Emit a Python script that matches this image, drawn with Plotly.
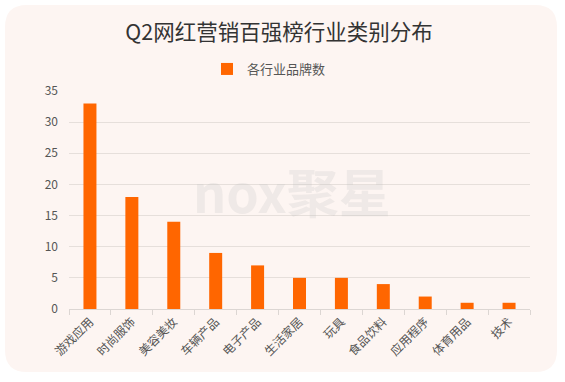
import plotly.graph_objects as go

categories = ["游戏应用", "时尚服饰", "美容美妆", "车辆产品", "电子产品", "生活家居",
              "玩具", "食品饮料", "应用程序", "体育用品", "技术"]
brand_counts = [33, 18, 14, 9, 7, 5, 5, 4, 2, 1, 1]
series_name = "各行业品牌数"
title_text = "Q2网红营销百强榜行业类别分布"

W, H = 565, 382
L, R, T, B = 69, 35, 91, 73
pw = W - L - R
ph = H - T - B

def px(x):
    return (x - L) / pw

def py(y):
    return (H - B - y) / ph

def card_path(x0, y0, x1, y1, r):
    pts = [
        f"M {px(x0 + r)} {py(y0)}",
        f"L {px(x1 - r)} {py(y0)}",
        f"Q {px(x1)} {py(y0)} {px(x1)} {py(y0 + r)}",
        f"L {px(x1)} {py(y1 - r)}",
        f"Q {px(x1)} {py(y1)} {px(x1 - r)} {py(y1)}",
        f"L {px(x0 + r)} {py(y1)}",
        f"Q {px(x0)} {py(y1)} {px(x0)} {py(y1 - r)}",
        f"L {px(x0)} {py(y0 + r)}",
        f"Q {px(x0)} {py(y0)} {px(x0 + r)} {py(y0)}",
        "Z",
    ]
    return " ".join(pts)

font = "Noto Sans CJK SC, Noto Sans, sans-serif"

fig = go.Figure()
fig.add_trace(go.Bar(
    x=categories, y=brand_counts, name=series_name,
    marker=dict(color="#FF6600", line=dict(width=0)),
    showlegend=True,
))

fig.update_layout(
    width=W, height=H,
    margin=dict(l=L, r=R, t=T, b=B, autoexpand=False),
    paper_bgcolor="white",
    plot_bgcolor="rgba(0,0,0,0)",
    bargap=0.69,
    font=dict(family=font, color="#666666", size=12),
    title=dict(text=title_text, x=px(279), xref="paper", xanchor="center",
               y=1 - 32 / H, yanchor="middle",
               font=dict(family=font, size=21.5, color="#333333")),
    legend=dict(orientation="h", x=px(207), xanchor="left", y=py(69), yanchor="middle",
                font=dict(size=13, color="#555555"), bgcolor="rgba(0,0,0,0)",
                itemwidth=30),
    xaxis=dict(
        automargin=False,
        showgrid=False, showline=True, linecolor="#dcd6d3", linewidth=1,
        ticks="outside", tickson="boundaries", ticklen=5, tickcolor="#dcd6d3",
        tickangle=-45, tickfont=dict(size=12, color="#555555"),
    ),
    yaxis=dict(
        automargin=False,
        range=[0, 35], dtick=5, showgrid=True, gridcolor="#e6dfdb", gridwidth=1,
        zeroline=False, showline=False, ticks="", ticklabelstandoff=10,
        tickfont=dict(size=12, color="#555555"),
    ),
    shapes=[dict(
        type="path", xref="paper", yref="paper", layer="below",
        path=card_path(5, 5, 557, 372, 22),
        fillcolor="#FDF5F2", line=dict(width=0),
    )],
    annotations=[dict(
        text="<b>nox聚星</b>", xref="paper", yref="paper",
        x=px(292), y=py(190), showarrow=False,
        font=dict(family=font, size=52, color="rgba(190,190,190,0.22)"),
    )],
)

fig.write_html("out.html", config={"displayModeBar": False},
               post_script="document.body.style.margin='0';")
